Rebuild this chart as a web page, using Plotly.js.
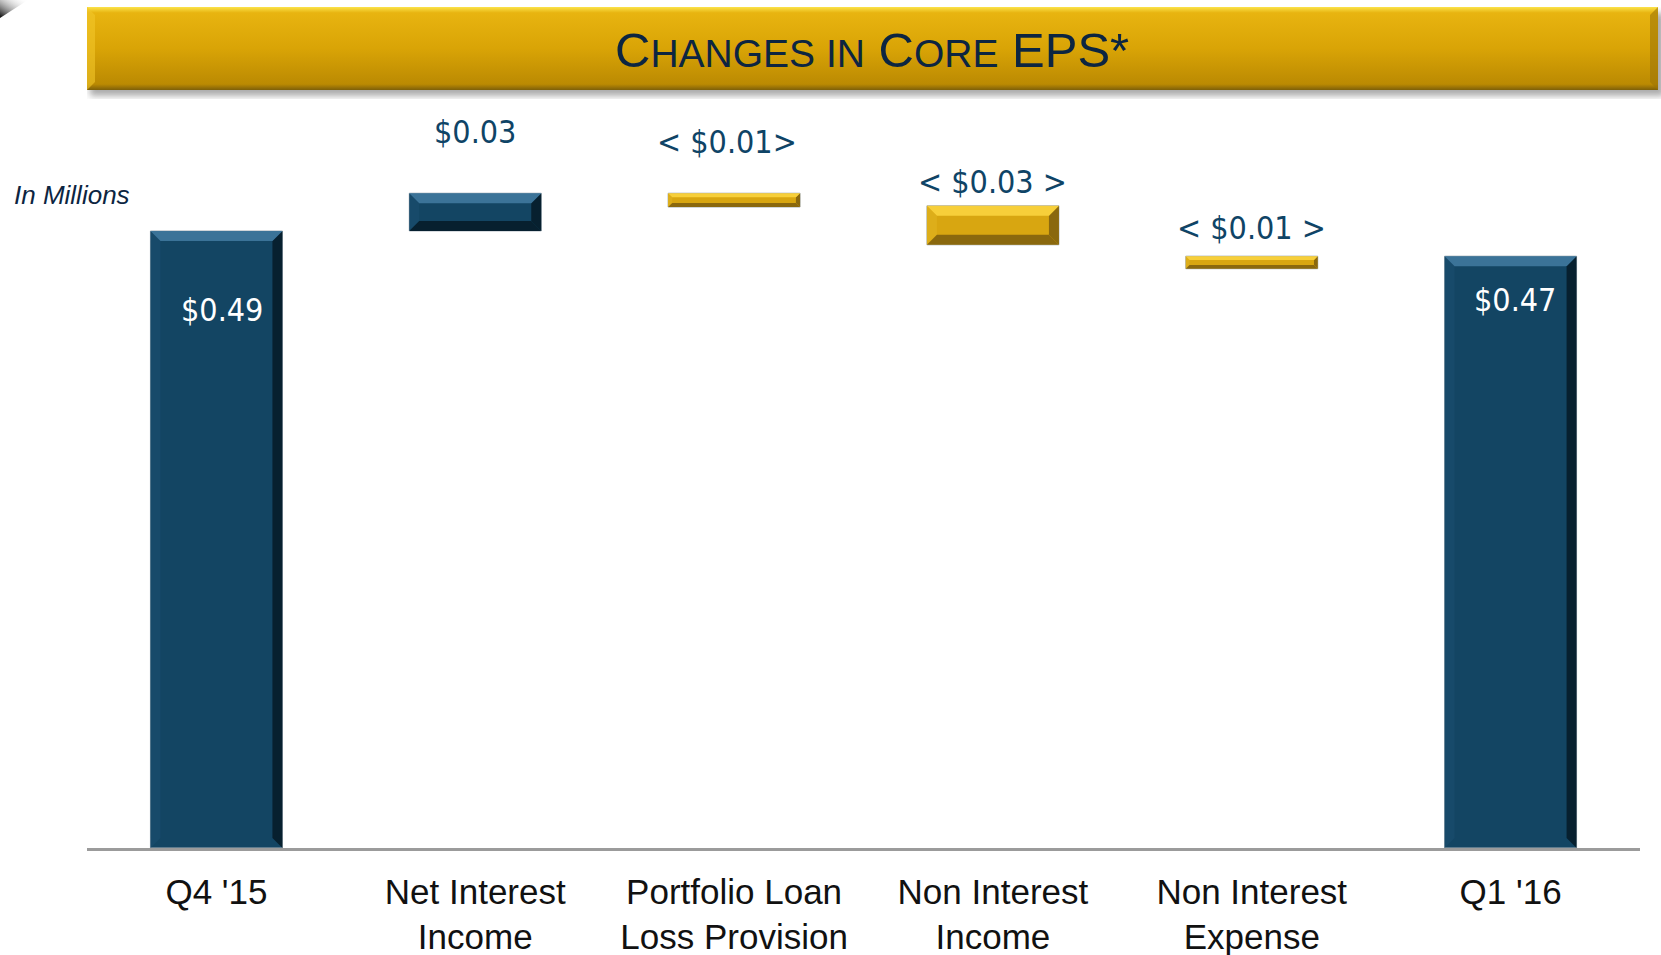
<!DOCTYPE html>
<html>
<head>
<meta charset="utf-8">
<script src="https://cdn.plot.ly/plotly-3.0.1.min.js"></script>
<style>
html,body{margin:0;padding:0;background:#fff;}
#chart{width:1661px;height:955px;}
</style>
</head>
<body>
<div id="chart"></div>
<script>
// ---- data ----
const categories = ["Q4 '15", "Net Interest<br>Income", "Portfolio Loan<br>Loss Provision", "Non Interest<br>Income", "Non Interest<br>Expense", "Q1 '16"];
const barBase   = [0, 0.49, 0.52, 0.51, 0.47, 0];
const barChange = [0.49, 0.03, -0.011, -0.031, -0.01, 0.47];
const barKind   = ["total", "up", "down", "down", "down", "total"];
const valueLabels = ["$0.49", "$0.03", "< $0.01>", "< $0.03 >", "< $0.01 >", "$0.47"];
const chartTitle = "C<span style='font-size:39px'>HANGES IN</span> C<span style='font-size:39px'>ORE</span> EPS*";
const unitNote = "In Millions";

// ---- style ----
const W = 1661, H = 955;
const M = {l: 87, r: 21, t: 100, b: 107};
const yMax = 0.594;
const navy = "#134563", gold = "#d8a611";
const palette = {
  total: {main: navy, light: "#3b7398", dark: "#07202f", side: "#174a6a"},
  up:    {main: navy, light: "#3b7398", dark: "#07202f", side: "#174a6a"},
  down:  {main: gold, light: "#f7cf3a", dark: "#8a680e", side: "#ddae1a"}
};
// label offsets (pixels) relative to the bar top
const labelShift = [[6, -79], [0, 61], [-7, 51], [0, 24], [0, 28], [4, -44]];
const labelInside = [true, false, false, false, false, true];

const plotH = H - M.t - M.b;
const plotW = W - M.l - M.r;
const pxPerUnit = plotH / yMax;
const barWidth = 0.51;
const halfPx = barWidth * plotW / categories.length / 2;

const trace = {
  type: "bar",
  x: categories,
  y: barChange,
  base: barBase,
  width: barWidth,
  marker: {
    color: barKind.map(k => palette[k].main),
    line: {color: "#a9b3ba", width: 1}
  },
  hoverinfo: "skip"
};

const shapes = [];
categories.forEach((c, i) => {
  const top = barBase[i] + Math.max(barChange[i], 0);
  const bot = barBase[i] + Math.min(barChange[i], 0);
  const hPx = (top - bot) * pxPerUnit;
  const b = Math.min(10, hPx * 0.3);
  const w = halfPx;
  const col = palette[barKind[i]];
  const mk = (path, color) => ({
    type: "path", xref: "x", yref: "y", xsizemode: "pixel", ysizemode: "pixel",
    xanchor: c, yanchor: top, path: path, fillcolor: color, line: {width: 0}, layer: "above"
  });
  shapes.push(mk(`M ${w},0 L ${w-b},${-b} L ${w-b},${-(hPx-b)} L ${w},${-hPx} Z`, col.dark));
  shapes.push(mk(`M ${-w},0 L ${-w+b},${-b} L ${-w+b},${-(hPx-b)} L ${-w},${-hPx} Z`, col.side));
  if (barKind[i] !== "total") {
    shapes.push(mk(`M ${-w},${-hPx} L ${w},${-hPx} L ${w-b},${-(hPx-b)} L ${-w+b},${-(hPx-b)} Z`, col.dark));
  }
  shapes.push(mk(`M ${-w},0 L ${w},0 L ${w-b},${-b} L ${-w+b},${-b} Z`, col.light));
});

const annotations = categories.map((c, i) => {
  const top = barBase[i] + Math.max(barChange[i], 0);
  return {
    x: c, y: top, xref: "x", yref: "y",
    text: valueLabels[i], showarrow: false,
    xshift: labelShift[i][0], yshift: labelShift[i][1],
    yanchor: "middle", xanchor: "center",
    font: {family: "'Liberation Sans Narrow', 'DejaVu Sans Condensed', 'Liberation Sans', Arial, sans-serif", size: 32,
           color: labelInside[i] ? "#ffffff" : "#0f4466"}
  };
});

annotations.push({
  xref: "paper", yref: "paper", x: (872 - M.l) / plotW, y: (H - M.b - 50) / plotH,
  xanchor: "center", yanchor: "middle", showarrow: false,
  text: chartTitle,
  font: {family: "'Liberation Sans', Arial, sans-serif", size: 49, color: "#0c2541"}
});
annotations.push({
  xref: "paper", yref: "paper", x: (12 - M.l) / plotW, y: (H - M.b - 195) / plotH,
  xanchor: "left", yanchor: "middle", showarrow: false,
  text: "<i>" + unitNote + "</i>",
  font: {family: "'Liberation Sans', Arial, sans-serif", size: 26, color: "#0c2541"}
});

const bannerSvg = `<svg xmlns='http://www.w3.org/2000/svg' width='1580' height='92' viewBox='0 0 1580 92' preserveAspectRatio='none'>
<defs>
<linearGradient id='g' x1='0' y1='0' x2='0' y2='1'>
<stop offset='0' stop-color='#fbe34a'/>
<stop offset='0.07' stop-color='#e8b410'/>
<stop offset='0.5' stop-color='#d9a406'/>
<stop offset='0.93' stop-color='#bb8a02'/>
<stop offset='1' stop-color='#7d5f0a'/>
</linearGradient>
<filter id='f' x='-0.05' y='-0.5' width='1.1' height='2'><feGaussianBlur stdDeviation='3'/></filter>
</defs>
<rect x='3' y='6' width='1574' height='83' fill='#8a8a8a' filter='url(#f)' opacity='0.7'/>
<rect x='0' y='0' width='1571' height='83' fill='url(#g)'/>
<path d='M0,0 L8,8 L8,75 L0,83 Z' fill='#f2c62a' opacity='0.6'/>
<path d='M1571,0 L1563,8 L1563,75 L1571,83 Z' fill='#9c7406' opacity='0.6'/>
</svg>`;
const cornerSvg = `<svg xmlns='http://www.w3.org/2000/svg' width='30' height='20'>
<defs><linearGradient id='c' x1='0' y1='1' x2='1' y2='0'><stop offset='0' stop-color='#000'/><stop offset='1' stop-color='#fff' stop-opacity='0'/></linearGradient></defs>
<path d='M0,0 L28,0 L0,18 Z' fill='url(#c)'/></svg>`;

const images = [
  {source: "data:image/svg+xml;charset=utf-8," + encodeURIComponent(bannerSvg),
   xref: "paper", yref: "paper", x: 0, y: (H - M.b - 7) / plotH,
   sizex: 1580 / plotW, sizey: 92 / plotH, xanchor: "left", yanchor: "top",
   sizing: "stretch", layer: "below"},
  {source: "data:image/svg+xml;charset=utf-8," + encodeURIComponent(cornerSvg),
   xref: "paper", yref: "paper", x: -M.l / plotW, y: (H - M.b) / plotH,
   sizex: 30 / plotW, sizey: 20 / plotH, xanchor: "left", yanchor: "top",
   sizing: "stretch", layer: "below"}
];

const layout = {
  width: W, height: H,
  margin: M,
  paper_bgcolor: "#ffffff", plot_bgcolor: "#ffffff",
  showlegend: false,
  xaxis: {
    type: "category",
    showline: true, linecolor: "#9b9b9b", linewidth: 2.5,
    showgrid: false, zeroline: false, ticks: "",
    ticklabelstandoff: 11,
    tickfont: {family: "'Liberation Sans', Arial, sans-serif", size: 35, color: "#111111"},
    fixedrange: true
  },
  yaxis: {
    range: [0, yMax], visible: false, showgrid: false, zeroline: false, fixedrange: true
  },
  shapes: shapes,
  annotations: annotations,
  images: images
};

Plotly.newPlot("chart", [trace], layout, {displayModeBar: false, staticPlot: true});
</script>
</body>
</html>
